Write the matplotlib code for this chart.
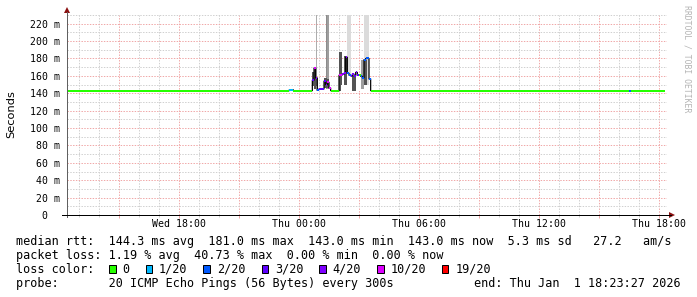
import matplotlib
matplotlib.use("Agg")
import matplotlib.pyplot as plt
from matplotlib.lines import Line2D
from matplotlib.patches import Rectangle, Polygon
import numpy as np

W, H = 697, 297

# ---------------- data ----------------
# time unit: hours relative to Thu 00:00
x_start, x_end = -11.6, 18.4

# flat median segments (start h, end h, median ms, loss index)
flat_t0 = [-11.6, -0.485, -0.285, 1.583, 3.583, 16.50, 16.60]
flat_t1 = [-0.485, -0.285, 0.667, 2.000, 16.50, 16.60, 18.30]
flat_med = [143.0, 144.0, 143.0, 143.0, 143.0, 143.0, 143.0]
flat_loss = [0, 1, 0, 0, 0, 2, 0]

# spike region, 5-minute slots (minutes after Thu 00:00)
slot_min = [40, 45, 50, 55, 60, 65, 70, 75, 80, 85, 90,
            120, 125, 130, 135, 140, 145, 150, 155, 160, 165, 170, 175,
            180, 185, 190, 195, 200, 205, 210]
slot_med = [155.0, 169.0, 157.6, 144.0, 145.0, 145.0, 145.0, 154.0, 150.0, 152.6, 146.0,
            160.7, 161.0, 162.0, 163.0, 181.4, 163.0, 160.7, 160.0, 162.0, 160.0, 164.0, 161.0,
            160.7, 159.5, 158.0, 178.7, 180.0, 180.0, 156.5]
slot_loss = [3, 5, 4, 2, 3, 3, 3, 3, 4, 5, 5,
             5, 5, 4, 4, 4, 2, 2, 3, 4, 3, 4, 3,
             0, 2, 2, 2, 2, 2, 2]
# light/medium smoke band (lo, hi, gray level) ; None = no band
smoke_lo = [None, None, 143, None, None, None, None, None, 145, 145, None,
            None, None, None, None, None, 163, 160, None, None, None, None, None,
            None, 145, 145, 150, 150, 150, None]
smoke_hi = [None, None, 240, None, None, None, None, None, 240, 240, None,
            None, None, None, None, None, 240, 240, None, None, None, None, None,
            None, 178, 178, 240, 240, 240, None]
smoke_gray = [None, None, 0.68, None, None, None, None, None, 0.55, 0.62, None,
              None, None, None, None, None, 0.86, 0.86, None, None, None, None, None,
              None, 0.62, 0.62, 0.86, 0.86, 0.86, None]
# dark smoke band (inner)
dark_lo = [148, 145, 148, None, None, None, None, 146, 146, 146, None,
           143, 150, None, 150, 150, None, None, None, 143, 143, None, None,
           None, None, None, 150, 150, None, None]
dark_hi = [165, 169, 158, None, None, None, None, 158, 158, 156, None,
           187, 187, None, 182.5, 182.5, None, None, None, 160, 160, None, None,
           None, None, None, 178, 178, None, None]

loss_labels = ["0", "1/20", "2/20", "3/20", "4/20", "10/20", "19/20"]
loss_colors = ["#26ff00", "#00b8ff", "#0059ff", "#5e00ff", "#7e00ff", "#dd00ff", "#ff0000"]

y_ticks = [0, 20, 40, 60, 80, 100, 120, 140, 160, 180, 200, 220]
x_label_hours = [-6, 0, 6, 12, 18]
x_labels = ["Wed 18:00", "Thu 00:00", "Thu 06:00", "Thu 12:00", "Thu 18:00"]

legend_rows = [
    "median rtt:  144.3 ms avg  181.0 ms max  143.0 ms min  143.0 ms now  5.3 ms sd   27.2   am/s",
    "packet loss: 1.19 % avg  40.73 % max  0.00 % min  0.00 % now",
]
probe_text = "probe:       20 ICMP Echo Pings (56 Bytes) every 300s"
end_text = "end: Thu Jan  1 18:23:27 2026"

# ---------------- figure ----------------
fig = plt.figure(figsize=(W / 100, H / 100), dpi=100, facecolor="white")


def fx(x):
    return x / W


def fy(y):
    return 1 - y / H


ax = fig.add_axes([fx(67), fy(215), 600 / W, 200 / H])
ax.set_facecolor("white")
ax.set_xlim(x_start, x_end)
ax.set_ylim(0, 230)
for s in ax.spines.values():
    s.set_visible(False)

mono = "DejaVu Sans Mono"
PX = 72 / 100  # points per pixel

# grid
ax.set_xticks(np.arange(-9, 19, 3))
ax.set_xticks(np.arange(-11, 19, 1), minor=True)
ax.set_yticks(y_ticks)
ax.set_yticks(np.arange(10, 231, 10), minor=True)
dot = (0, (1.4, 1.4))
ax.grid(which="minor", color="#d0d0d0", linestyle=dot, linewidth=1 * PX, zorder=0)
ax.grid(which="major", color="#f0a8a8", linestyle=dot, linewidth=1 * PX, zorder=0)
ax.set_axisbelow(True)

ax.set_xticklabels([])
ax.tick_params(axis="x", which="major", length=3 * PX, width=1 * PX, color="#f0a8a8",
               direction="out", labelbottom=False)
ax.tick_params(axis="x", which="minor", length=2 * PX, width=1 * PX, color="#d0d0d0",
               direction="out", labelbottom=False)
ax.set_yticklabels([("%d m" % v) if v else "0  " for v in y_ticks], family=mono, fontsize=7.1)
ax.tick_params(axis="y", which="both", length=0, pad=5.0)

for h, lab in zip(x_label_hours, x_labels):
    ax.text(h, -4.2, lab, ha="center", va="top", family=mono, fontsize=7.1)

# spike slots -> hours
s_t0 = [m / 60 for m in slot_min]
s_t1 = [(m + 5) / 60 for m in slot_min]

# white under median in spike region
for t0, t1, m in zip(s_t0, s_t1, slot_med):
    ax.bar(t0, m - 143, bottom=143, width=t1 - t0, align="edge", color="white", zorder=2, linewidth=0)

# smoke
for t0, t1, lo, hi, g in zip(s_t0, s_t1, smoke_lo, smoke_hi, smoke_gray):
    if lo is not None:
        ax.bar(t0, hi - lo, bottom=lo, width=t1 - t0, align="edge", color=str(g), zorder=3, linewidth=0)
for t0, t1, lo, hi in zip(s_t0, s_t1, dark_lo, dark_hi):
    if lo is not None:
        ax.bar(t0, hi - lo, bottom=lo, width=t1 - t0, align="edge", color="0.33", zorder=4, linewidth=0)

# combined median series
all_t0 = flat_t0 + s_t0
all_t1 = flat_t1 + s_t1
all_med = flat_med + slot_med
all_loss = flat_loss + slot_loss
order = np.argsort(all_t0)
sx, sy = [], []
for i in order:
    sx += [all_t0[i], all_t1[i]]
    sy += [all_med[i], all_med[i]]
ax.plot(sx, sy, color="black", linewidth=1.2 * PX, zorder=5, solid_capstyle="butt")
ax.hlines(all_med, all_t0, all_t1, colors=[loss_colors[k] for k in all_loss],
          linewidth=2 * PX, zorder=6)

# axes lines and arrows (figure pixel coordinates)
fig.add_artist(Line2D([fx(67), fx(67)], [fy(217), fy(12)], color="#606060", linewidth=1 * PX))
fig.add_artist(Line2D([fx(62), fx(671)], [fy(215), fy(215)], color="black", linewidth=1 * PX))
fig.add_artist(Polygon([(fx(64), fy(13)), (fx(70), fy(13)), (fx(67), fy(7))], closed=True,
                       color="#8b1010", linewidth=0))
fig.add_artist(Polygon([(fx(669), fy(212)), (fx(669), fy(218)), (fx(675), fy(215))], closed=True,
                       color="#8b1010", linewidth=0))

# y axis title
fig.text(fx(11), fy(114), "Seconds", rotation=90, ha="center", va="center",
         family="DejaVu Sans", fontsize=8.2)

# watermark
fig.text(fx(687), fy(5), "RRDTOOL / TOBI OETIKER", rotation=270, ha="center", va="top",
         family=mono, fontsize=5.9, color="#b4b4b4")

# legend rows
fs = 8.47
fig.text(fx(16.4), fy(241.7), legend_rows[0], ha="left", va="center", family=mono, fontsize=fs)
fig.text(fx(16.4), fy(255.7), legend_rows[1], ha="left", va="center", family=mono, fontsize=fs)
fig.text(fx(16.4), fy(269.3), "loss color:", ha="left", va="center", family=mono, fontsize=fs)
box_x = [109, 145.7, 203.3, 261.7, 319, 377.3, 441.5]
text_x = [122, 159, 217.5, 275.2, 332.7, 390.5, 455.5]
for bx, tx, lab, col in zip(box_x, text_x, loss_labels, loss_colors):
    fig.add_artist(Rectangle((fx(bx), fy(272.7)), 6.7 / W, 8 / H, facecolor=col,
                             edgecolor="black", linewidth=1 * PX))
    fig.text(fx(tx), fy(269.3), lab, ha="left", va="center", family=mono, fontsize=fs)
fig.text(fx(16.4), fy(283.3), probe_text, ha="left", va="center", family=mono, fontsize=fs)
fig.text(fx(681), fy(283.3), end_text, ha="right", va="center", family=mono, fontsize=fs)

fig.savefig("out.png", dpi=100, facecolor="white")
